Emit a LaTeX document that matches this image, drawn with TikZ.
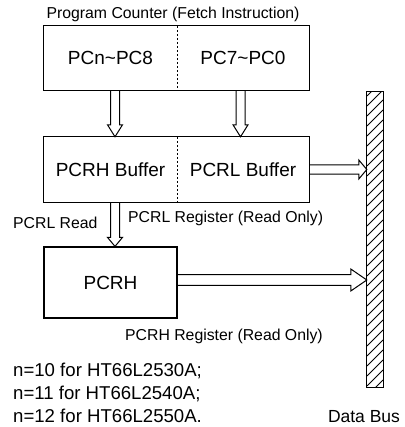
\documentclass[tikz,border=0pt]{standalone}
\usepackage{fontspec}
\setmainfont{Liberation Sans}
\usetikzlibrary{calc}
\tikzset{
  cell/.style={minimum width=133pt, minimum height=64pt, inner sep=0pt, font=\fontsize{19}{22}\selectfont},
  lbl/.style={inner sep=0pt, font=\fontsize{15.8}{18}\selectfont},
  box/.style={line width=1.2pt},
  divider/.style={line width=0.9pt, dash pattern=on 2pt off 2pt},
  hollow/.style={line width=1pt, line join=miter},
  busbar/.style={minimum width=16pt, minimum height=295pt, inner sep=0pt},
}
% hollow block arrows: start, end, head length, head half width, stem half width
\newcommand{\blkdown}[5]{%
  \draw[hollow] let \p1=(#1), \p2=(#2) in
    (\x1-#5,\y1) -- (\x1-#5,\y2+#3) -- (\x1-#4,\y2+#3) -- (\x1,\y2)
    -- (\x1+#4,\y2+#3) -- (\x1+#5,\y2+#3) -- (\x1+#5,\y1);}
\newcommand{\blkright}[5]{%
  \draw[hollow] let \p1=(#1), \p2=(#2) in
    (\x1,\y1+#5) -- (\x2-#3,\y1+#5) -- (\x2-#3,\y1+#4) -- (\x2,\y1)
    -- (\x2-#3,\y1-#4) -- (\x2-#3,\y1-#5) -- (\x1,\y1-#5);}
\begin{document}
\begin{tikzpicture}[x=1pt,y=-1pt]
  \useasboundingbox (0,0) rectangle (404,427);

  % program counter
  \node[lbl] (title) at (173,14) {Program Counter (Fetch Instruction)};
  \node[cell] (pch) at (110.5,58) {PCn\textasciitilde PC8};
  \node[cell, minimum width=132pt] (pcl) at (243,58) {PC7\textasciitilde PC0};
  \draw[box] (pch.north west) rectangle (pcl.south east);
  \draw[divider] (pch.north east) -- (pch.south east);

  % buffers
  \node[cell, minimum height=65pt] (bufh) at (110.5,169.5) {PCRH Buffer};
  \node[cell, minimum width=132pt, minimum height=65pt] (bufl) at (243,169.5) {PCRL Buffer};
  \draw[box] (bufh.north west) rectangle (bufl.south east);
  \draw[divider] (bufh.north east) -- (bufh.south east);

  % pcrh register
  \node[cell, minimum height=71pt, draw, box] (pcrh) at (110.5,282.5) {PCRH};

  % data bus
  \node[busbar] (bus) at (375,239.5) {};
  \begin{scope}
    \clip (bus.south west) rectangle (bus.north east);
    \foreach \y in {96,106,...,400}
      \draw[line width=0.8pt] (367,\y) -- ++(16,-16);
  \end{scope}
  \draw[box] (bus.south west) rectangle (bus.north east);

  \blkdown{$(pch.south)+(4.5,0)$}{bufh.north}{12pt}{7.5pt}{4.5pt}
  \blkdown{$(pcl.south)+(-2.5,0)$}{bufl.north}{12pt}{7.5pt}{4.5pt}
  \blkdown{$(bufh.south)+(4.5,0)$}{pcrh.north}{9pt}{7.5pt}{4.5pt}
  \blkright{bufl.east}{bus.west}{8pt}{9.5pt}{4.7pt}
  \blkright{$(pcrh.east)+(0,-2.5)$}{bus.west}{16pt}{11pt}{5.3pt}

  % labels
  \node[lbl, anchor=west] (rdl) at (13,223) {PCRL Read};
  \node[lbl, anchor=west] (regl) at (128,218) {PCRL Register (Read Only)};
  \node[lbl, anchor=west] (regh) at (125,336) {PCRH Register (Read Only)};
  \node[inner sep=0pt, anchor=west, align=left, font=\fontsize{18.6}{23}\selectfont] (notes) at (13,393)
    {n=10 for HT66L2530A;\\n=11 for HT66L2540A;\\n=12 for HT66L2550A.};
  \node[inner sep=0pt, font=\fontsize{17.5}{20}\selectfont] (busname) at (364,417) {Data Bus};
\end{tikzpicture}
\end{document}
